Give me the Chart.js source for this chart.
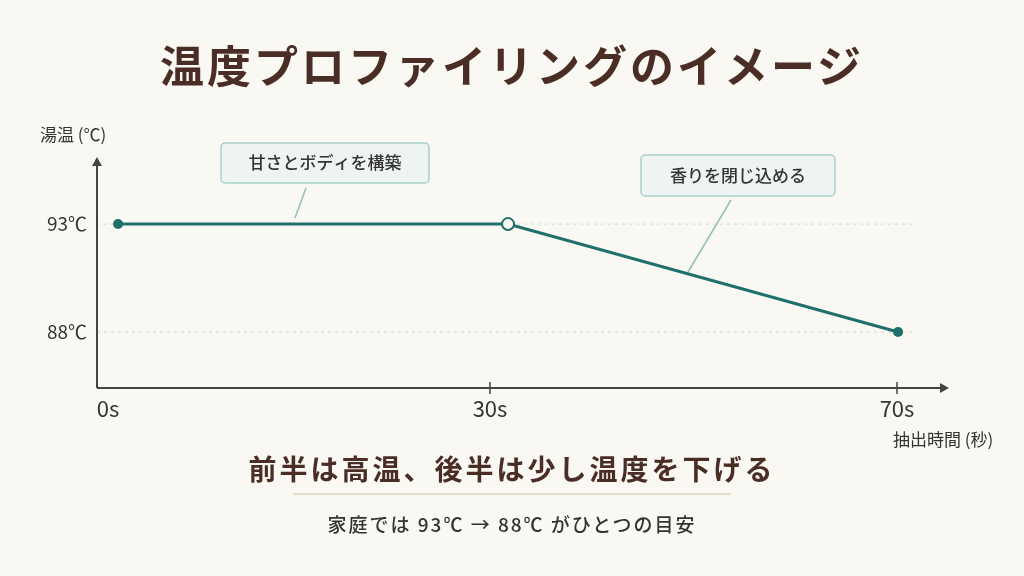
<!DOCTYPE html>
<html><head><meta charset="utf-8">
<script src="https://cdn.jsdelivr.net/npm/chart.js@4"></script>
<style>
body{margin:0;background:#faf8f3;font-family:"Noto Sans CJK JP","Noto Sans",sans-serif;}
#wrap{position:relative;width:1024px;height:576px;}
canvas{position:absolute;left:0;top:0;}
.t{position:absolute;left:0;width:1024px;text-align:center;color:#4a2e26;font-weight:700;}
</style></head>
<body><div id="wrap">
<canvas id="c" width="1024" height="576"></canvas>
<div class="t" style="top:32px;font-size:44px;letter-spacing:3px;">温度プロファイリングのイメージ</div>
<div class="t" style="top:448px;font-size:28px;letter-spacing:3px;">前半は高温、後半は少し温度を下げる</div>
<div style="position:absolute;left:293px;top:493px;width:438px;height:2px;background:#e3dcc9"></div>
<div class="t" style="top:510px;font-size:19px;font-weight:500;letter-spacing:2px;color:#333">家庭では 93℃ → 88℃ がひとつの目安</div>
</div>
<script>
// データ
const timeLabels = ['0s', '30s', '70s'];
const temps = [93, 93, 88];
const yTicks = [93, 88];
const notes = ['甘さとボディを構築', '香りを閉じ込める'];
const teal = '#1f6f6b';

const overlay = {
  id: 'overlay',
  beforeDatasetsDraw(chart) {
    const {ctx, scales: {x, y}, chartArea: a} = chart;
    ctx.save();
    // 補助線
    ctx.strokeStyle = '#d6d6d0'; ctx.setLineDash([3, 4]); ctx.lineWidth = 1;
    yTicks.forEach(v => {
      ctx.beginPath(); ctx.moveTo(a.left, y.getPixelForValue(v)); ctx.lineTo(912, y.getPixelForValue(v)); ctx.stroke();
    });
    ctx.setLineDash([]);
    // 軸
    ctx.strokeStyle = '#444'; ctx.lineWidth = 2;
    ctx.beginPath(); ctx.moveTo(a.left, a.bottom); ctx.lineTo(946, a.bottom); ctx.stroke();
    ctx.beginPath(); ctx.moveTo(a.left, a.bottom); ctx.lineTo(a.left, 160); ctx.stroke();
    ctx.fillStyle = '#444';
    ctx.beginPath(); ctx.moveTo(949, a.bottom); ctx.lineTo(940, a.bottom - 5); ctx.lineTo(940, a.bottom + 5); ctx.fill();
    ctx.beginPath(); ctx.moveTo(a.left, 157); ctx.lineTo(a.left - 5, 166); ctx.lineTo(a.left + 5, 166); ctx.fill();
    // 目盛りラベル
    ctx.fillStyle = '#333'; ctx.font = '19px "Noto Sans CJK JP"';
    ctx.textAlign = 'right'; ctx.textBaseline = 'middle';
    yTicks.forEach(v => ctx.fillText(v + '℃', 87, y.getPixelForValue(v)));
    ctx.textAlign = 'center'; ctx.textBaseline = 'top'; ctx.font = '22px "Noto Sans CJK JP"';
    const lx = [108, 490, 897];
    timeLabels.forEach((t, i) => {
      ctx.fillText(t, lx[i], 398);
      if (i > 0) { ctx.lineWidth = 1.5; ctx.beginPath(); ctx.moveTo(lx[i], a.bottom - 6); ctx.lineTo(lx[i], a.bottom + 6); ctx.stroke(); }
    });
    ctx.font = '17px "Noto Sans CJK JP"'; ctx.textAlign = 'left';
    ctx.fillText('抽出時間 (秒)', 893, 431);
    ctx.fillText('湯温 (℃)', 40, 126);
    // 吹き出し
    const boxes = [[221, 143, 208, 40, 306, 188, 295, 218], [641, 155, 194, 41, 731, 200, 688, 272]];
    boxes.forEach((b, i) => {
      ctx.strokeStyle = '#8fbfb9'; ctx.lineWidth = 1.5;
      ctx.beginPath(); ctx.moveTo(b[4], b[5]); ctx.lineTo(b[6], b[7]); ctx.stroke();
      ctx.fillStyle = '#eef4f2'; ctx.strokeStyle = '#a8cfc9';
      ctx.beginPath(); ctx.roundRect(b[0], b[1], b[2], b[3], 4); ctx.fill(); ctx.stroke();
      ctx.fillStyle = '#333'; ctx.font = '500 17px "Noto Sans CJK JP"';
      ctx.textAlign = 'center'; ctx.textBaseline = 'middle';
      ctx.fillText(notes[i], b[0] + b[2] / 2, b[1] + b[3] / 2);
    });
    ctx.restore();
  }
};

new Chart(document.getElementById('c'), {
  type: 'line',
  data: {
    datasets: [{
      data: temps.map((v, i) => ({x: i, y: v})),
      borderColor: teal, borderWidth: 3,
      pointRadius: [5, 6, 5],
      pointBackgroundColor: [teal, '#faf8f3', teal],
      pointBorderColor: teal, pointBorderWidth: [0, 2, 0],
      tension: 0
    }]
  },
  options: {
    responsive: false, animation: false, events: [],
    layout: {padding: {left: 97, right: 78, top: 150, bottom: 188}},
    plugins: {legend: {display: false}, tooltip: {enabled: false}},
    scales: {
      x: {type: 'linear', min: -0.054, max: 2.123, display: false},
      y: {min: 85.41, max: 96.43, display: false}
    }
  },
  plugins: [overlay]
});
</script>
</body></html>
